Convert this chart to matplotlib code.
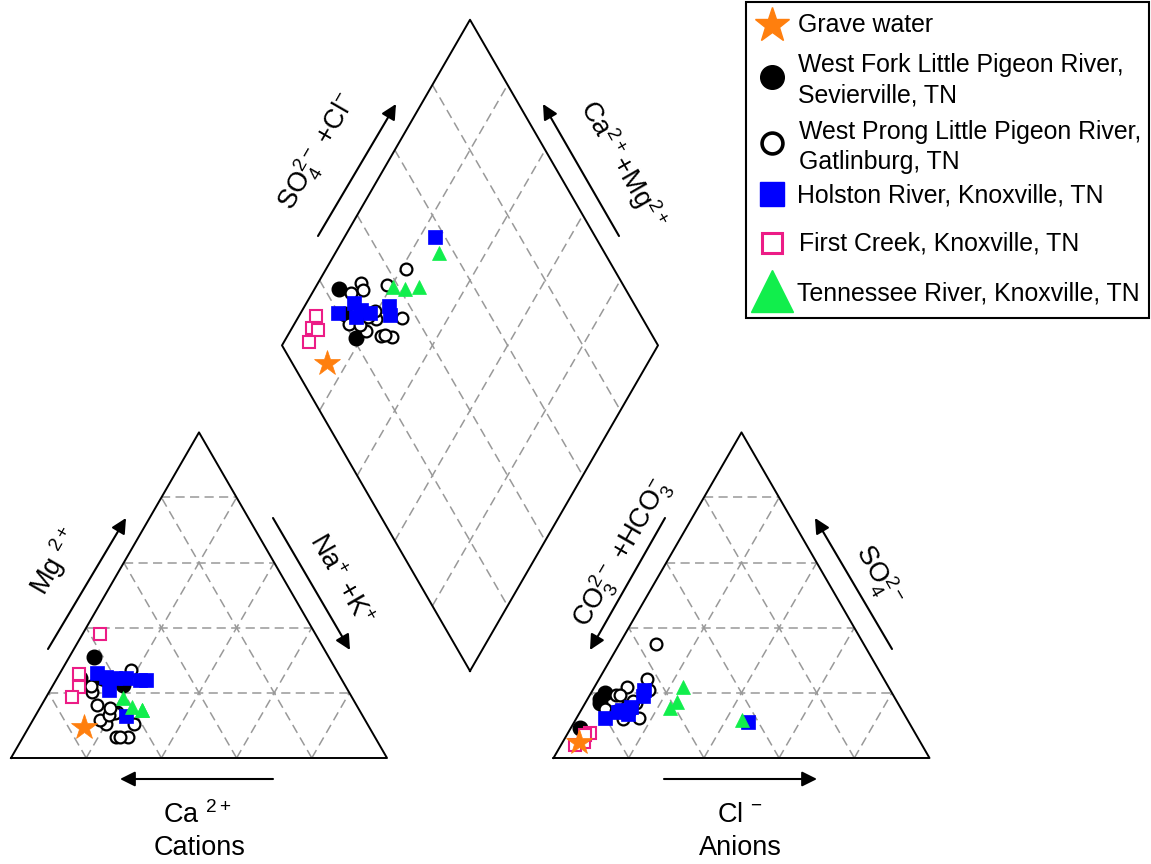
import numpy as np
import matplotlib
matplotlib.use("Agg")
import matplotlib.pyplot as plt
from matplotlib.patches import Rectangle

plt.rcParams['font.family'] = ['Liberation Sans', 'DejaVu Sans']
plt.rcParams['mathtext.fontset'] = 'custom'
plt.rcParams['mathtext.rm'] = 'Liberation Sans'
plt.rcParams['mathtext.it'] = 'Liberation Sans:italic'
plt.rcParams['mathtext.bf'] = 'Liberation Sans:bold'

# ---- data: meq % (Mg, Na+K, SO4, Cl) for every sample ----
grave_mg = [9.6]
grave_nak = [14.5]
grave_so4 = [5.0]
grave_cl = [4.2]

wfork_mg = [31.0, 22.4, 24.5, 24.5]
wfork_nak = [6.5, 18.5, 6.0, 12.0]
wfork_so4 = [20.0, 16.8, 9.1, 18.0]
wfork_cl = [3.7, 4.0, 2.5, 3.5]

wprong_mg = [14.0, 20.3, 24.0, 27.0, 22.0, 10.4, 16.3, 10.4, 13.7, 6.5, 6.5, 11.7, 6.5, 13.2, 15.4]
wprong_nak = [21.3, 11.3, 13.0, 18.5, 10.4, 27.6, 14.7, 20.0, 20.8, 24.8, 27.9, 17.7, 25.7, 19.5, 18.6]
wprong_so4 = [34.9, 21.9, 17.0, 24.2, 19.5, 21.0, 15.0, 11.9, 12.4, 16.0, 17.0, 14.5, 16.5, 17.5, 19.3]
wprong_cl = [9.8, 8.7, 13.0, 12.9, 7.0, 15.0, 6.2, 12.6, 16.6, 11.6, 13.5, 9.5, 12.5, 12.5, 8.0]

holston_mg = [26.0, 25.0, 21.0, 24.5, 24.5, 24.0, 24.0, 13.0]
holston_nak = [10.0, 12.7, 15.5, 15.5, 18.4, 22.3, 24.0, 24.0]
holston_so4 = [12.2, 14.7, 14.1, 13.5, 15.7, 20.9, 19.0, 11.1]
holston_cl = [7.6, 11.0, 10.0, 13.0, 12.7, 13.5, 14.3, 46.2]

first_mg = [38.1, 25.8, 21.8, 18.6]
first_nak = [4.6, 5.3, 7.3, 6.8]
first_so4 = [7.8, 5.0, 7.0, 4.0]
first_cl = [5.8, 5.5, 5.0, 3.7]

tenn_mg = [18.3, 15.8, 14.7, 14.7]
tenn_nak = [20.7, 24.2, 27.6, 27.6]
tenn_so4 = [15.3, 17.3, 21.9, 11.7]
tenn_cl = [23.3, 24.1, 23.6, 44.2]

# ---- layout (pixel units of the output picture) ----
SIDE = 376.0
H = SIDE * np.sqrt(3) / 2
CAT0 = (11.0, 758.0)
AN0 = (553.5, 758.0)
DIA0 = (470.0, 671.0)


def cat_xy(mg, nak):
    mg = np.asarray(mg) / 100.0
    nak = np.asarray(nak) / 100.0
    return CAT0[0] + SIDE * (nak + mg / 2), CAT0[1] - H * mg


def an_xy(so4, cl):
    so4 = np.asarray(so4) / 100.0
    cl = np.asarray(cl) / 100.0
    return AN0[0] + SIDE * (cl + so4 / 2), AN0[1] - H * so4


def dia_xy(nak, so4, cl):
    a = (np.asarray(so4) + np.asarray(cl)) / 100.0
    c = 1 - np.asarray(nak) / 100.0
    return DIA0[0] + SIDE / 2 * (a - c), DIA0[1] - H * (a + c)


fig = plt.figure(figsize=(11.51, 8.64), dpi=100)
ax = fig.add_axes([0, 0, 1, 1])
ax.set_xlim(0, 1151)
ax.set_ylim(864, 0)
ax.axis('off')

grid_kw = dict(color='#999999', lw=1.1, ls=(0, (6, 3.5)), zorder=1)
edge_kw = dict(color='black', lw=1.4, zorder=2)
steps = [20, 40, 60, 80]

# triangles
for tri in (cat_xy, an_xy):
    for k in steps:
        ax.plot(*tri([k, k], [0, 100 - k]), **grid_kw)
        ax.plot(*tri([0, 100 - k], [k, k]), **grid_kw)
        ax.plot(*tri([0, 100 - k], [100 - k, 0]), **grid_kw)
    ax.plot(*tri([0, 0, 100, 0], [0, 100, 0, 0]), **edge_kw)

# diamond
for k in steps:
    ax.plot(*dia_xy([100 - k, 100 - k], [0, 100], [0, 0]), **grid_kw)
    ax.plot(*dia_xy([0, 100], [k, k], [0, 0]), **grid_kw)
ax.plot(*dia_xy([100, 100, 0, 0, 100], [0, 100, 100, 0, 0], [0, 0, 0, 0, 0]), **edge_kw)

# samples
groups = [
    (wfork_mg, wfork_nak, wfork_so4, wfork_cl,
     dict(marker='o', ms=10.5, mfc='black', mec='black', mew=1)),
    (wprong_mg, wprong_nak, wprong_so4, wprong_cl,
     dict(marker='o', ms=8.5, mfc='white', mec='black', mew=1.6)),
    (holston_mg, holston_nak, holston_so4, holston_cl,
     dict(marker='s', ms=10, mfc='#0000ff', mec='#0000ff', mew=0.5)),
    (first_mg, first_nak, first_so4, first_cl,
     dict(marker='s', ms=8.5, mfc='white', mec='#ec1c86', mew=1.5)),
    (tenn_mg, tenn_nak, tenn_so4, tenn_cl,
     dict(marker='^', ms=10.5, mfc='#11ee4c', mec='#11ee4c', mew=0.5)),
    (grave_mg, grave_nak, grave_so4, grave_cl,
     dict(marker='*', ms=19, mfc='#ff7f0e', mec='#ff7f0e', mew=0.5)),
]
for z, (mg, nak, so4, cl, st) in enumerate(groups):
    for xy in (cat_xy(mg, nak), an_xy(so4, cl), dia_xy(nak, so4, cl)):
        ax.plot(*xy, ls='none', zorder=3 + z, **st)

# arrows
arrow_kw = dict(arrowstyle='-|>,head_length=0.6,head_width=0.3', color='black',
                lw=1.5, mutation_scale=15, shrinkA=0, shrinkB=0)
arrows = [((273, 779), (120, 779)), ((48, 649), (126, 518)), ((273, 518), (350, 650)),
          ((318, 236), (396, 104)), ((619, 236), (543, 104)),
          ((665, 518), (590, 650)), ((892, 649), (815, 518)), ((664, 779), (817, 779))]
for tail, head in arrows:
    ax.annotate('', xy=head, xytext=tail, arrowprops=arrow_kw)

# axis labels
fs = 19.5
ax.text(197, 815, 'Ca $^{2+}$', fontsize=fs, ha='center', va='center')
ax.text(200, 848, 'Cations', fontsize=fs, ha='center', va='center')
ax.text(740, 815, 'Cl $^{-}$', fontsize=fs, ha='center', va='center')
ax.text(740, 848, 'Anions', fontsize=fs, ha='center', va='center')
ax.text(55, 562, 'Mg $^{2+}$', fontsize=fs, ha='center', va='center', rotation=60)
ax.text(340, 580, 'Na$^{+}$ +K$^{+}$', fontsize=fs, ha='center', va='center', rotation=-60)
ax.text(318, 152, 'SO$_4^{2-}$ +Cl$^{-}$', fontsize=fs, ha='center', va='center', rotation=60)
ax.text(622, 165, 'Ca$^{2+}$+Mg$^{2+}$', fontsize=fs, ha='center', va='center', rotation=-60)
ax.text(622, 553, 'CO$_3^{2-}$ +HCO$_3^{-}$', fontsize=fs, ha='center', va='center', rotation=60)
ax.text(878, 575, 'SO$_4^{2-}$', fontsize=fs, ha='center', va='center', rotation=-60)

# legend box
ax.add_patch(Rectangle((746, 2), 403, 316, fill=False, lw=1.5, ec='black', zorder=10))
leg_marks = [
    (25, dict(marker='*', ms=26, mfc='#ff7f0e', mec='#ff7f0e')),
    (77, dict(marker='o', ms=17, mfc='black', mec='black')),
    (143, dict(marker='o', ms=15, mfc='white', mec='black', mew=2.6)),
    (194, dict(marker='s', ms=17, mfc='#0000ff', mec='#0000ff')),
    (243, dict(marker='s', ms=15, mfc='white', mec='#ec1c86', mew=2.2)),
    (291, dict(marker='^', ms=30, mfc='#11ee4c', mec='#11ee4c')),
]
for y, st in leg_marks:
    ax.plot([772], [y], ls='none', zorder=11, **st)
leg_texts = [
    (798, 25, 'Grave water'),
    (798, 65, 'West Fork Little Pigeon River,'),
    (798, 95, 'Sevierville, TN'),
    (799, 132, 'West Prong Little Pigeon River,'),
    (799, 162, 'Gatlinburg, TN'),
    (797, 195, 'Holston River, Knoxville, TN'),
    (799, 243, 'First Creek, Knoxville, TN'),
    (797, 293, 'Tennessee River, Knoxville, TN'),
]
for x, y, t in leg_texts:
    ax.text(x, y, t, fontsize=17.9, ha='left', va='center', zorder=11)

fig.savefig('out.png', dpi=100)
